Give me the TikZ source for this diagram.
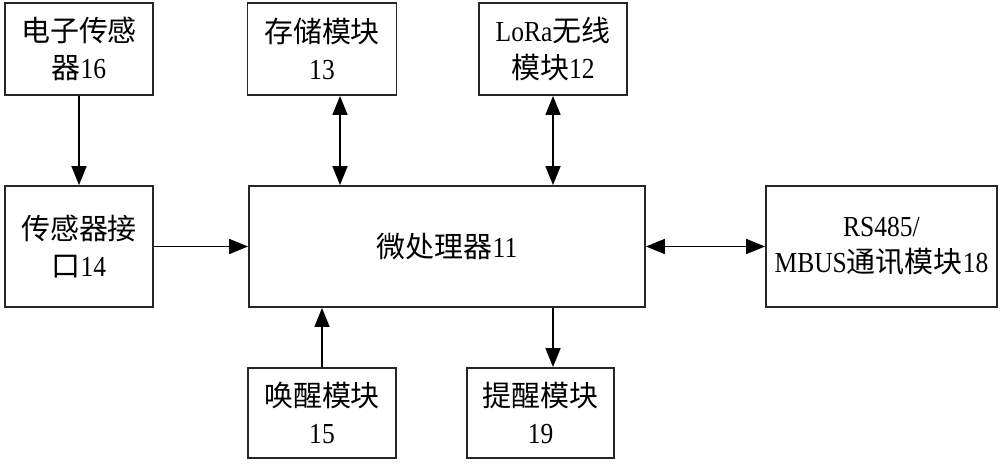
\documentclass[tikz,border=0pt]{standalone}
\usepackage{fontspec}
\setmainfont{Liberation Serif}[FakeStretch=0.88]
\newfontfamily\cjk{Noto Sans CJK SC}
\usetikzlibrary{arrows.meta}
\begin{document}
\begin{tikzpicture}[x=0.02cm,y=-0.02cm,
  blk/.style={draw=black!85,line width=1.1pt,rectangle,align=center,inner sep=0pt,
    font=\fontsize{16.5}{20.6}\selectfont},
  conn/.style={line width=1pt,-{Triangle[length=0.38cm,width=0.3cm]}},
  dconn/.style={line width=1pt,{Triangle[length=0.38cm,width=0.3cm]}-{Triangle[length=0.38cm,width=0.3cm]}}]
\useasboundingbox (0,0) rectangle (1000,463);
\node[blk,minimum width=2.96cm,minimum height=1.84cm] (s16) at (79,49) {{\cjk 电子传感}\\{\cjk 器}16};
\node[blk,minimum width=2.98cm,minimum height=1.84cm] (m13) at (322,49) {{\cjk 存储模块}\\13};
\node[blk,minimum width=2.96cm,minimum height=1.84cm] (l12) at (553,49) {LoRa{\cjk 无线}\\{\cjk 模块}12};
\node[blk,minimum width=2.96cm,minimum height=2.42cm] (i14) at (79,246.5) {{\cjk 传感器接}\\{\cjk 口}14};
\node[blk,minimum width=7.92cm,minimum height=2.42cm] (mcu) at (447,246.5) {{\cjk 微处理器}11};
\node[blk,minimum width=4.62cm,minimum height=2.42cm] (rs) at (881.5,246.5) {RS485/\\MBUS{\cjk 通讯模块}18};
\node[blk,minimum width=2.96cm,minimum height=1.8cm] (w15) at (322,413) {{\cjk 唤醒模块}\\15};
\node[blk,minimum width=2.94cm,minimum height=1.8cm] (r19) at (540.5,413) {{\cjk 提醒模块}\\19};
\coordinate (x13) at (340,0);
\coordinate (x12) at (553,0);
\coordinate (x15) at (322,0);
\draw[conn] (s16) -- (i14);
\draw[dconn] (m13.south -| x13) -- (mcu.north -| x13);
\draw[dconn] (l12.south -| x12) -- (mcu.north -| x12);
\draw[conn] (i14.east) -- (mcu.west |- i14.east);
\draw[dconn] (mcu.east) -- (rs.west |- mcu.east);
\draw[conn] (w15.north -| x15) -- (mcu.south -| x15);
\draw[conn] (mcu.south -| x12) -- (r19.north -| x12);
\end{tikzpicture}
\end{document}
